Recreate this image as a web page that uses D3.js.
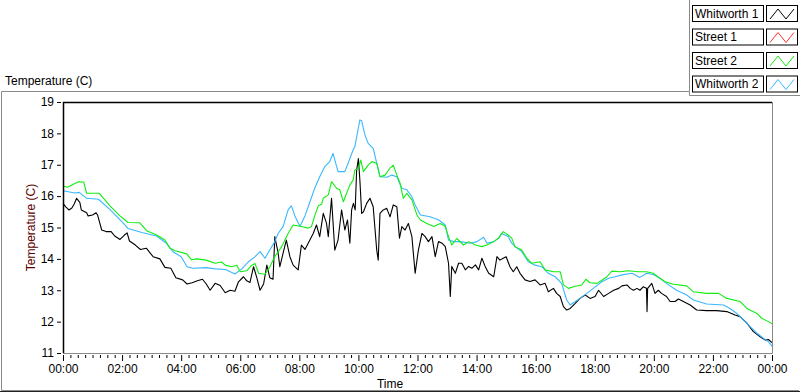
<!DOCTYPE html>
<html>
<head>
<meta charset="utf-8">
<script src="https://cdn.jsdelivr.net/npm/d3@7"></script>
<style>
  body { margin: 0; background: #fff; }
  svg { display: block; font-family: 'Liberation Sans', Arial, sans-serif; }
</style>
</head>
<body>
<svg id="chart" width="800" height="392"></svg>
<script>
// series data, [hour of day, temperature C]
const whitworth1 = [
  [0, 15.77], [0.1, 15.65], [0.2, 15.56], [0.3, 15.62], [0.38, 15.75], [0.46, 15.93], [0.57, 15.8],
  [0.62, 15.56], [0.8, 15.47], [0.85, 15.37], [1.0, 15.4], [1.12, 15.47], [1.17, 15.4], [1.31, 14.92],
  [1.46, 14.87], [1.63, 14.87], [1.75, 14.73], [1.93, 14.62], [2.08, 14.76], [2.17, 14.83], [2.25, 14.57],
  [2.45, 14.44], [2.62, 14.3], [2.82, 14.34], [3.05, 14.07], [3.28, 14.0], [3.45, 13.73], [3.65, 13.7],
  [3.82, 13.4], [4.05, 13.33], [4.2, 13.2], [4.37, 13.24], [4.55, 13.3], [4.72, 13.35], [4.85, 13.2],
  [4.98, 13.0], [5.15, 13.22], [5.32, 13.15], [5.49, 12.92], [5.66, 13.0], [5.82, 12.97], [5.94, 13.27],
  [6.11, 13.43], [6.22, 13.3], [6.33, 13.25], [6.45, 13.75], [6.56, 13.4], [6.67, 13.0], [6.79, 13.2],
  [6.9, 13.8], [7.0, 13.4], [7.11, 13.35], [7.17, 14.71], [7.28, 14.2], [7.34, 13.75], [7.45, 14.18],
  [7.56, 14.6], [7.68, 14.07], [7.79, 13.8], [7.96, 13.65], [8.07, 14.44], [8.19, 14.3], [8.3, 14.5],
  [8.47, 14.81], [8.58, 15.08], [8.69, 14.71], [8.81, 15.45], [8.92, 15.13], [8.98, 14.71], [9.09, 15.93],
  [9.2, 14.28], [9.31, 14.6], [9.43, 15.56], [9.54, 14.92], [9.63, 15.24], [9.71, 14.5], [9.77, 15.56],
  [9.83, 15.77], [9.89, 15.56], [9.94, 16.83], [10.0, 17.2], [10.05, 16.5], [10.11, 15.45], [10.17, 15.5],
  [10.28, 15.77], [10.39, 15.93], [10.5, 15.66], [10.62, 14.28], [10.67, 13.96], [10.73, 15.45],
  [10.84, 15.56], [10.96, 15.61], [11.07, 15.34], [11.18, 15.72], [11.3, 15.66], [11.39, 14.66],
  [11.47, 15.03], [11.58, 14.92], [11.69, 15.13], [11.81, 14.71], [11.92, 13.54], [12.03, 14.28],
  [12.15, 14.81], [12.26, 14.71], [12.37, 14.55], [12.49, 14.71], [12.6, 14.07], [12.71, 14.55],
  [12.83, 14.5], [12.94, 14.39], [13.05, 13.86], [13.11, 12.8], [13.16, 13.76], [13.28, 13.54],
  [13.39, 13.86], [13.5, 13.86], [13.62, 13.65], [13.73, 13.76], [13.84, 13.7], [13.96, 13.81],
  [14.07, 13.65], [14.18, 14.02], [14.29, 13.76], [14.41, 13.54], [14.58, 13.43], [14.69, 14.07],
  [14.79, 13.96], [14.9, 14.02], [15.0, 14.07], [15.13, 13.75], [15.24, 13.59], [15.36, 13.75],
  [15.47, 13.54], [15.64, 13.33], [15.81, 13.28], [15.98, 13.33], [16.15, 13.17], [16.32, 13.22],
  [16.43, 12.95], [16.6, 13.06], [16.71, 12.9], [16.83, 12.8], [16.94, 12.48], [17.05, 12.37],
  [17.17, 12.42], [17.34, 12.58], [17.5, 12.74], [17.68, 12.85], [17.84, 12.74], [18.01, 12.8],
  [18.13, 13.0], [18.3, 12.8], [18.47, 12.9], [18.64, 13.0], [18.81, 13.06], [18.92, 13.14],
  [19.09, 13.17], [19.2, 13.06], [19.31, 13.0], [19.43, 13.06], [19.53, 13.0], [19.64, 13.11],
  [19.75, 13.06], [19.77, 12.32], [19.79, 13.06], [19.93, 13.22], [20.04, 12.9], [20.15, 13.0],
  [20.26, 12.9], [20.43, 12.8], [20.55, 12.64], [20.72, 12.64], [20.83, 12.72], [21.0, 12.64],
  [21.23, 12.53], [21.45, 12.37], [21.79, 12.35], [22.13, 12.35], [22.47, 12.32], [22.75, 12.21],
  [22.92, 12.16], [23.15, 11.95], [23.37, 11.68], [23.6, 11.52], [23.77, 11.41], [23.88, 11.43],
  [24.0, 11.33]
];

const street1 = [];

const street2 = [
  [0, 16.32], [0.15, 16.28], [0.52, 16.46], [0.7, 16.45], [0.8, 16.09], [1.23, 16.09], [1.59, 15.69],
  [1.93, 15.37], [2.2, 15.16], [2.6, 15.15], [2.83, 14.9], [3.17, 14.76], [3.45, 14.6], [3.62, 14.34],
  [3.8, 14.26], [4.19, 14.16], [4.35, 13.97], [4.53, 14.0], [4.85, 13.96], [5.15, 13.86], [5.37, 13.9],
  [5.49, 13.8], [5.71, 13.75], [5.88, 13.8], [6.0, 13.59], [6.22, 13.62], [6.39, 13.8], [6.5, 13.85],
  [6.62, 13.54], [6.84, 13.51], [7.0, 13.75], [7.17, 14.07], [7.4, 14.39], [7.62, 14.81], [7.79, 15.08],
  [8.07, 15.03], [8.3, 14.98], [8.41, 15.03], [8.52, 15.37], [8.64, 15.69], [8.75, 15.74], [8.81, 15.93],
  [8.98, 16.04], [9.09, 16.46], [9.26, 16.25], [9.37, 16.2], [9.49, 15.82], [9.6, 16.09], [9.71, 16.35],
  [9.82, 16.51], [9.88, 16.83], [10.0, 16.88], [10.08, 17.15], [10.17, 16.78], [10.33, 16.99],
  [10.45, 17.1], [10.62, 17.05], [10.73, 16.62], [10.9, 16.67], [11.07, 16.89], [11.18, 16.99],
  [11.3, 16.67], [11.41, 16.41], [11.52, 15.93], [11.64, 16.09], [11.81, 15.88], [11.98, 15.4],
  [12.1, 15.24], [12.32, 15.13], [12.55, 15.03], [12.77, 15.13], [12.94, 15.03], [13.05, 14.71],
  [13.16, 14.44], [13.33, 14.65], [13.56, 14.44], [13.73, 14.55], [13.96, 14.44], [14.18, 14.39],
  [14.35, 14.44], [14.58, 14.55], [14.75, 14.67], [14.9, 14.87], [15.07, 14.76], [15.19, 14.66],
  [15.3, 14.39], [15.53, 14.28], [15.7, 14.02], [15.87, 13.86], [16.15, 13.91], [16.32, 13.65],
  [16.6, 13.59], [16.83, 13.59], [16.94, 13.17], [17.11, 13.06], [17.34, 13.13], [17.56, 13.17],
  [17.7, 13.35], [17.84, 13.24], [18.07, 13.22], [18.24, 13.32], [18.41, 13.43], [18.58, 13.61],
  [18.86, 13.59], [19.14, 13.62], [19.48, 13.59], [19.75, 13.59], [19.98, 13.54], [20.21, 13.38],
  [20.38, 13.27], [20.66, 13.19], [21.11, 13.14], [21.34, 12.95], [21.79, 12.9], [22.19, 12.9],
  [22.47, 12.74], [22.92, 12.64], [23.15, 12.42], [23.49, 12.26], [23.66, 12.1], [23.88, 12.0],
  [24.0, 11.93]
];

const whitworth2 = [
  [0, 16.17], [0.4, 16.1], [0.55, 16.12], [0.8, 15.93], [1.2, 15.9], [1.6, 15.56], [2.0, 15.18],
  [2.2, 14.97], [2.7, 14.83], [3.17, 14.73], [3.5, 14.5], [3.72, 14.23], [4.0, 14.07], [4.2, 13.75],
  [4.4, 13.7], [4.85, 13.72], [5.15, 13.68], [5.5, 13.66], [5.82, 13.52], [6.05, 13.68], [6.28, 13.91],
  [6.5, 14.07], [6.67, 14.23], [6.84, 14.02], [7.0, 14.28], [7.17, 14.55], [7.28, 14.81], [7.45, 15.03],
  [7.62, 15.56], [7.73, 15.69], [7.85, 15.37], [8.02, 15.03], [8.19, 15.37], [8.36, 15.82], [8.52, 16.25],
  [8.69, 16.62], [8.86, 16.94], [9.03, 17.1], [9.14, 17.36], [9.31, 16.78], [9.54, 16.78], [9.65, 17.05],
  [9.82, 17.47], [9.88, 17.58], [10.05, 18.43], [10.11, 18.4], [10.22, 17.95], [10.33, 17.68],
  [10.5, 17.52], [10.62, 17.05], [10.73, 16.62], [10.96, 16.6], [11.13, 16.67], [11.3, 16.62],
  [11.47, 16.25], [11.64, 16.2], [11.81, 15.98], [11.92, 15.72], [12.1, 15.4], [12.43, 15.34],
  [12.72, 15.24], [12.94, 15.08], [13.05, 14.6], [13.22, 14.55], [13.45, 14.55], [13.79, 14.5],
  [14.01, 14.55], [14.24, 14.69], [14.35, 14.5], [14.58, 14.55], [14.75, 14.66], [14.84, 14.81],
  [15.07, 14.71], [15.19, 14.5], [15.3, 14.39], [15.53, 14.23], [15.75, 13.91], [15.98, 13.8],
  [16.2, 13.75], [16.43, 13.54], [16.66, 13.43], [16.88, 13.22], [17.05, 12.69], [17.17, 12.53],
  [17.28, 12.6], [17.5, 12.74], [17.73, 12.9], [17.95, 13.06], [18.24, 13.27], [18.47, 13.38],
  [18.69, 13.43], [18.92, 13.49], [19.26, 13.54], [19.53, 13.41], [19.75, 13.54], [19.98, 13.5],
  [20.21, 13.38], [20.43, 13.22], [20.77, 13.0], [21.11, 12.85], [21.34, 12.69], [21.79, 12.56],
  [22.36, 12.53], [22.58, 12.42], [22.81, 12.26], [23.04, 12.05], [23.26, 11.84], [23.49, 11.63],
  [23.71, 11.47], [23.88, 11.36], [24.0, 11.22]
];

const seriesNames = ['Whitworth 1', 'Street 1', 'Street 2', 'Whitworth 2'];
const seriesColors = ['#000000', '#ff3333', '#11ee11', '#3ab8ff'];
const seriesData = [whitworth1, street1, street2, whitworth2];

const yTicks = [11, 12, 13, 14, 15, 16, 17, 18, 19];
const xTickLabels = ['00:00', '02:00', '04:00', '06:00', '08:00', '10:00', '12:00',
  '14:00', '16:00', '18:00', '20:00', '22:00', '00:00'];

const plot = { left: 63, right: 772, top: 102, bottom: 353 };

const svg = d3.select('#chart');

const x = d3.scaleLinear().domain([0, 24]).range([plot.left, plot.right]);
const y = d3.scaleLinear().domain([11, 19]).range([plot.bottom, plot.top]);

// outer frame
svg.append('path')
  .attr('d', 'M 689.5,0 V 91.5 H 1.5 V 390.5 H 799')
  .attr('fill', 'none')
  .attr('stroke', '#8a8a8a');
svg.append('path')
  .attr('d', 'M 689.5,91.5 V 95.5 H 800')
  .attr('fill', 'none')
  .attr('stroke', '#8a8a8a');
svg.append('line')
  .attr('x1', 0).attr('x2', 800)
  .attr('y1', 391.5).attr('y2', 391.5)
  .attr('stroke', '#222');

svg.append('text')
  .attr('x', 5)
  .attr('y', 85)
  .attr('font-size', 12)
  .attr('fill', '#000')
  .text('Temperature (C)');

// plot background + sunken border
svg.append('rect')
  .attr('x', plot.left).attr('y', plot.top)
  .attr('width', plot.right - plot.left).attr('height', plot.bottom - plot.top)
  .attr('fill', '#fff');

const lineGen = d3.line()
  .x(d => x(d[0]))
  .y(d => y(d[1]));

const linesG = svg.append('g');
// draw in order so black sits under green/blue like the reference
[0, 1, 3, 2].forEach(i => {
  if (seriesData[i].length === 0) return;
  linesG.append('path')
    .datum(seriesData[i])
    .attr('d', lineGen)
    .attr('fill', 'none')
    .attr('stroke', seriesColors[i])
    .attr('stroke-width', 1.1)
    .attr('stroke-linejoin', 'round');
});

svg.append('path')
  .attr('d', `M ${plot.left + 0.5},${plot.bottom} V ${plot.top + 0.5} H ${plot.right}`)
  .attr('fill', 'none')
  .attr('stroke', '#000')
  .attr('stroke-width', 1.5);
svg.append('path')
  .attr('d', `M ${plot.right + 0.5},${plot.top} V ${plot.bottom + 0.5} H ${plot.left}`)
  .attr('fill', 'none')
  .attr('stroke', '#8a8a8a');

// y axis
const yAxis = d3.axisLeft(y)
  .tickValues(yTicks)
  .tickSize(4)
  .tickPadding(3)
  .tickFormat(d3.format('d'));
const yG = svg.append('g')
  .attr('transform', `translate(${plot.left - 2},0)`)
  .call(yAxis);
yG.select('.domain').remove();
yG.selectAll('text').attr('font-size', 12).attr('fill', '#000').attr('font-family', 'Liberation Sans, Arial, sans-serif');

// x axis: major every 2h, minor every 15 min
const xAxisMajor = d3.axisBottom(x)
  .tickValues(d3.range(0, 25, 2))
  .tickSize(6)
  .tickPadding(3)
  .tickFormat((d, i) => xTickLabels[i]);
const xG = svg.append('g')
  .attr('transform', `translate(0,${plot.bottom + 2})`)
  .call(xAxisMajor);
xG.select('.domain').remove();
xG.selectAll('text').attr('font-size', 12).attr('fill', '#000').attr('font-family', 'Liberation Sans, Arial, sans-serif');

const xAxisMinor = d3.axisBottom(x)
  .tickValues(d3.range(0, 24.01, 0.25).filter(h => Math.abs(h % 2) > 0.01))
  .tickSize(3)
  .tickFormat('');
const xmG = svg.append('g')
  .attr('transform', `translate(0,${plot.bottom + 2})`)
  .call(xAxisMinor);
xmG.select('.domain').remove();

svg.append('text')
  .attr('x', 390)
  .attr('y', 388)
  .attr('text-anchor', 'middle')
  .attr('font-size', 12)
  .text('Time');

svg.append('text')
  .attr('transform', `translate(35,${(plot.top + plot.bottom) / 2}) rotate(-90)`)
  .attr('text-anchor', 'middle')
  .attr('font-size', 12)
  .attr('fill', '#5a0000')
  .text('Temperature (C)');

// legend
const legend = svg.append('g');
seriesNames.forEach((name, i) => {
  const top = 5 + i * 23.5;
  const item = legend.append('g').attr('transform', `translate(0,${top})`);
  item.append('rect')
    .attr('x', 692.5).attr('y', 0.5)
    .attr('width', 71).attr('height', 16)
    .attr('fill', '#fff')
    .attr('stroke', '#000');
  item.append('text')
    .attr('x', 695)
    .attr('y', 12.5)
    .attr('font-size', 12)
    .text(name);
  item.append('rect')
    .attr('x', 766.5).attr('y', 0.5)
    .attr('width', 31).attr('height', 16)
    .attr('fill', '#fff')
    .attr('stroke', '#000');
  item.append('path')
    .attr('d', 'M 770,14 L 778,4 L 786,14 L 794,4')
    .attr('fill', 'none')
    .attr('stroke', seriesColors[i]);
});
</script>
</body>
</html>
